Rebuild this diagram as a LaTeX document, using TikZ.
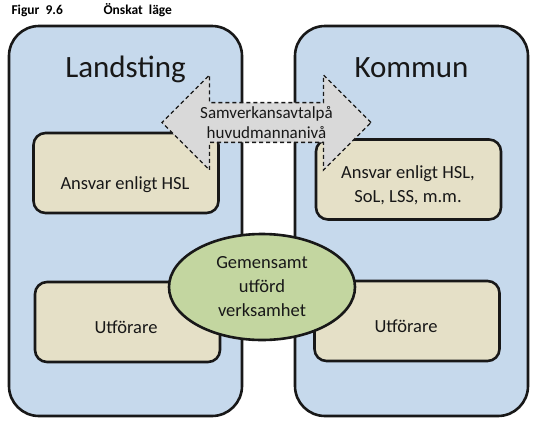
\documentclass[tikz,border=0pt]{standalone}
\usepackage{fontspec}
\setmainfont{Carlito}
\usetikzlibrary{shapes.geometric}
\usetikzlibrary{shapes.arrows}
\definecolor{boxblue}{RGB}{198,217,236}
\definecolor{boxtan}{RGB}{229,224,199}
\definecolor{ovalgreen}{RGB}{195,214,160}
\definecolor{arrowgray}{RGB}{217,217,217}
\definecolor{edge}{RGB}{24,24,24}
\newcommand*{\bigw}{233pt}
\newcommand*{\bigh}{390pt}
\newcommand*{\inw }{185pt}
\newcommand*{\inh }{80pt}
\newcommand*{\txt }{\fontsize{18.5}{24}\selectfont}

\begin{document}
\begin{tikzpicture}[x=1pt, y=-1pt, font=\txt,
    bigbox/.style = {draw=edge, line width=2.6pt, fill=boxblue, rounded corners=30pt, minimum width=\bigw, minimum height=\bigh, inner sep=0pt},
    tanbox/.style = {draw=edge, line width=2.6pt, fill=boxtan, rounded corners=12pt, minimum width=\inw, minimum height=\inh, inner sep=0pt},
    headline/.style = {anchor=base, font=\fontsize{31}{36}\selectfont, text=edge}]
    \useasboundingbox (0,0) rectangle (536,424);
    \node (fig) [anchor=base west, font=\bfseries\fontsize{13.5}{15}\selectfont] at (8,14) {Figur\ \ 9.6};
    \node (rubrik) [anchor=base west, font=\bfseries\fontsize{13.5}{15}\selectfont] at (100,14) {Önskat\ \ läge};
    % huvudmän
    \node (lands) [bigbox] at (125.5,221) {};
    \node (komm)  [bigbox] at (411.5,221) {};
    \node (landsrub) [headline] at (125.5,77) {Landsting};
    \node (kommrub)  [headline] at (411.5,77) {Kommun};
    % ansvar och utförare
    \node (lansvar) [tanbox] at (126,173)   {};
    \node (kansvar) [tanbox] at (408.5,179.5) {};
    \node (lutf)    [tanbox] at (127.5,322) {};
    \node (kutf)    [tanbox] at (407,321)   {};
    \node (lansvartxt) [text=edge] at (125,185) {Ansvar enligt HSL};
    \node (kansvartxt) [text=edge, align=center] at (408,185) {Ansvar enligt HSL,\\SoL, LSS, m.m.};
    \node (lutftxt) [text=edge] at (126,327) {Utförare};
    \node (kutftxt) [text=edge] at (406,326) {Utförare};
    % avtal
    \node (avtal) [double arrow, draw=edge, dash pattern=on 4pt off 3pt, line width=1.4pt, fill=arrowgray,
        minimum height=209pt, minimum width=95pt, double arrow head extend=23pt, inner sep=0pt,
        align=center, text=edge, font=\fontsize{17}{19.5}\selectfont] at (266.5,122.5) {Samverkansavtalpå\\huvudmannanivå};
    % gemensamt
    \node (gemensamt) [ellipse, draw=edge, line width=2.6pt, fill=ovalgreen, minimum width=186pt, minimum height=106pt,
        inner sep=0pt, align=center, text=edge] at (262,287) {Gemensamt\\utförd\\verksamhet};
\end{tikzpicture}
\end{document}
